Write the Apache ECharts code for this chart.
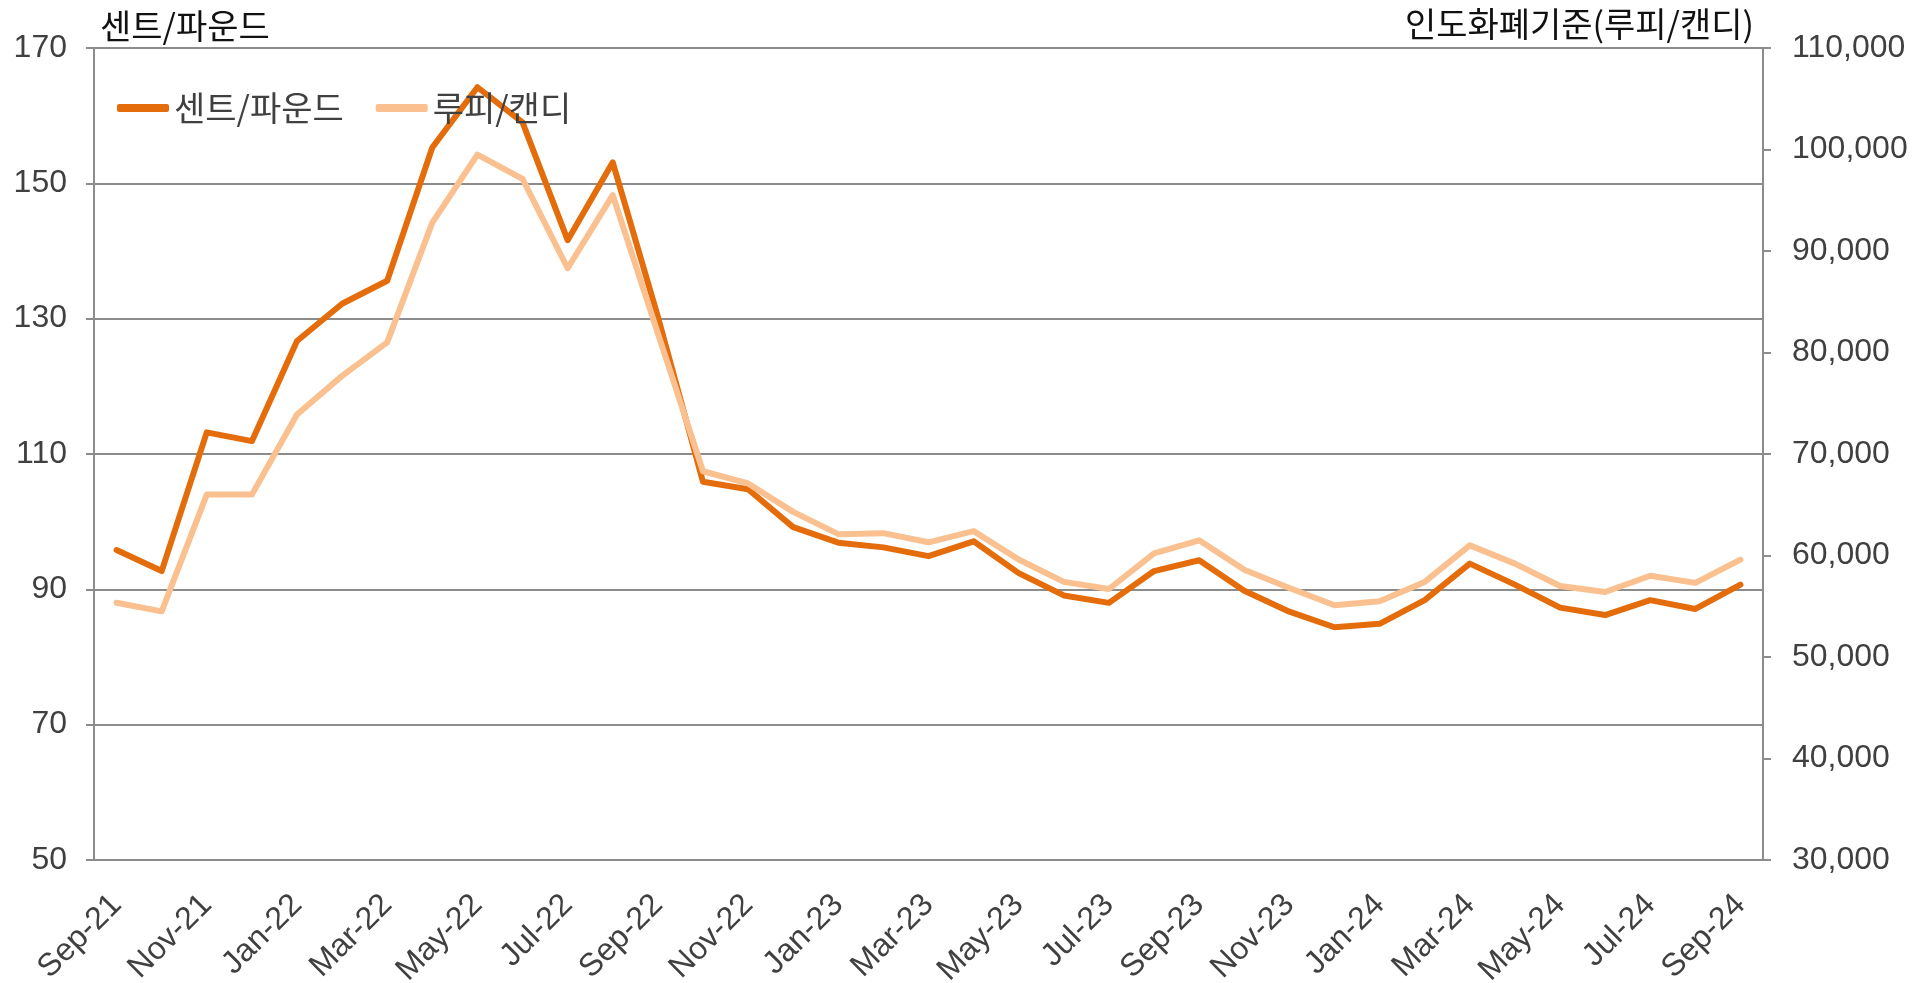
<!DOCTYPE html>
<html>
<head>
<meta charset="utf-8">
<script src="https://cdn.jsdelivr.net/npm/echarts@6/dist/echarts.min.js"></script>
<style>
  html, body { margin: 0; padding: 0; background: #fff; }
  #chart { width: 1922px; height: 983px; }
</style>
</head>
<body>
<div id="chart"></div>
<script>
// 면화 가격 - 센트/파운드 vs 인도 루피/캔디
const months = [
  'Sep-21', 'Oct-21', 'Nov-21', 'Dec-21', 'Jan-22', 'Feb-22', 'Mar-22', 'Apr-22', 'May-22',
  'Jun-22', 'Jul-22', 'Aug-22', 'Sep-22', 'Oct-22', 'Nov-22', 'Dec-22', 'Jan-23', 'Feb-23',
  'Mar-23', 'Apr-23', 'May-23', 'Jun-23', 'Jul-23', 'Aug-23', 'Sep-23', 'Oct-23', 'Nov-23',
  'Dec-23', 'Jan-24', 'Feb-24', 'Mar-24', 'Apr-24', 'May-24', 'Jun-24', 'Jul-24', 'Aug-24', 'Sep-24'
]
const centsPerPound = [
  95.8, 92.7, 113.2, 111.9, 126.7, 132.2, 135.6, 155.3, 164.2,
  159.0, 141.6, 153.1, 130.3, 105.9, 104.8, 99.2, 96.9, 96.2,
  94.9, 97.1, 92.4, 89.1, 88.0, 92.7, 94.3, 89.8, 86.7,
  84.4, 84.9, 88.4, 93.8, 90.7, 87.3, 86.2, 88.4, 87.1, 90.7
]
const rupeesPerCandy = [
  55350, 54500, 66000, 66000, 73900, 77700, 81000, 92800, 99500,
  97100, 88300, 95500, 81900, 68300, 67100, 64300, 62100, 62200,
  61300, 62400, 59600, 57400, 56700, 60200, 61500, 58600, 56800,
  55100, 55500, 57400, 61000, 59200, 57000, 56400, 58000, 57300, 59600
]
const leftTicks = { min: 50, max: 170, interval: 20 }
const rightTicks = { min: 30000, max: 110000, interval: 10000 }

const chart = echarts.init(document.getElementById('chart'))
const gray = '#8c8c8c'
const labelColor = '#404040'
const numFont = "'Liberation Sans', Arial, sans-serif"
const krFont = "'Noto Sans CJK KR', sans-serif"

const options = {
  animation: false,
  grid: {
    left: 94,
    right: 159,
    top: 48,
    bottom: 123,
    outerBoundsMode: 'none',
  },
  legend: {
    left: 112,
    top: 86,
    itemWidth: 52,
    itemHeight: 8,
    itemGap: 32,
    icon: 'roundRect',
    textStyle: {
      color: labelColor,
      fontSize: 34,
      fontFamily: krFont,
    },
    data: ['센트/파운드', '루피/캔디'],
  },
  xAxis: {
    type: 'category',
    data: months,
    boundaryGap: true,
    axisLine: { lineStyle: { color: gray, width: 2 } },
    axisTick: {
      interval: 1,
      length: 8,
      lineStyle: { color: gray, width: 2 },
    },
    axisLabel: {
      interval: 1,
      rotate: 45,
      margin: 40,
      color: labelColor,
      fontSize: 32,
      fontFamily: numFont,
    },
  },
  yAxis: [
    {
      type: 'value',
      min: leftTicks.min,
      max: leftTicks.max,
      interval: leftTicks.interval,
      name: '센트/파운드',
      nameLocation: 'end',
      nameGap: 22,
      nameTextStyle: {
        color: '#111',
        fontSize: 34,
        fontFamily: krFont,
        align: 'left',
        verticalAlign: 'middle',
        padding: [0, 0, 0, 6],
      },
      axisLine: { show: true, lineStyle: { color: gray, width: 2 } },
      axisTick: { show: true, length: 8, lineStyle: { color: gray, width: 2 } },
      splitLine: { show: true, lineStyle: { color: gray, width: 2 } },
      axisLabel: {
        margin: 27,
        color: labelColor,
        fontSize: 32,
        fontFamily: numFont,
      },
    },
    {
      type: 'value',
      position: 'right',
      min: rightTicks.min,
      max: rightTicks.max,
      interval: rightTicks.interval,
      name: '인도화폐기준(루피/캔디)',
      nameLocation: 'end',
      nameGap: 24,
      nameTextStyle: {
        color: '#111',
        fontSize: 34,
        fontFamily: krFont,
        align: 'right',
        verticalAlign: 'middle',
        padding: [0, 9, 0, 0],
      },
      axisLine: { show: true, lineStyle: { color: gray, width: 2 } },
      axisTick: { show: true, length: 8, lineStyle: { color: gray, width: 2 } },
      splitLine: { show: false },
      axisLabel: {
        margin: 29,
        color: labelColor,
        fontSize: 32,
        fontFamily: numFont,
        formatter: v => v.toLocaleString('en-US'),
      },
    },
  ],
  series: [
    {
      name: '센트/파운드',
      type: 'line',
      yAxisIndex: 0,
      symbol: 'none',
      data: centsPerPound,
      itemStyle: { color: '#E46C0A' },
      lineStyle: { color: '#E46C0A', width: 6, join: 'round', cap: 'round' },
    },
    {
      name: '루피/캔디',
      type: 'line',
      yAxisIndex: 1,
      symbol: 'none',
      data: rupeesPerCandy,
      itemStyle: { color: '#FAC090' },
      lineStyle: { color: '#FAC090', width: 6, join: 'round', cap: 'round' },
    },
  ],
}
chart.setOption(options)
</script>
</body>
</html>
